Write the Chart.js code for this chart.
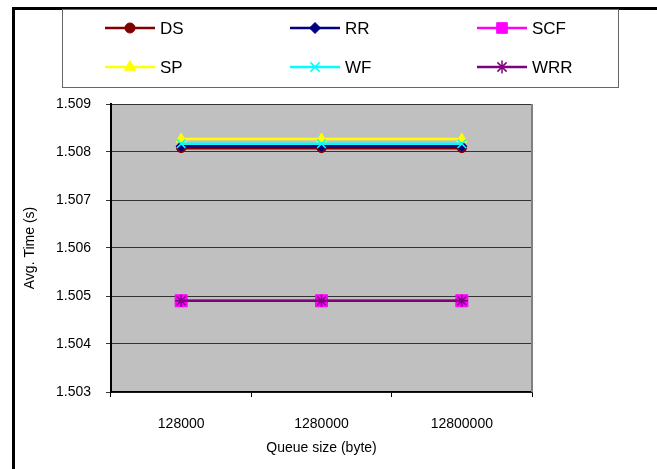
<!DOCTYPE html>
<html>
<head>
<meta charset="utf-8">
<script src="https://cdn.jsdelivr.net/npm/chart.js@4"></script>
<style>
html,body{margin:0;padding:0;background:#fff;}
#wrap{width:657px;height:469px;position:relative;}
</style>
</head>
<body>
<div id="wrap"><canvas id="c" width="657" height="469"></canvas></div>
<script>
const categories = ['128000', '1280000', '12800000'];
const seriesNames = ['DS', 'RR', 'SCF', 'SP', 'WF', 'WRR'];
const DS  = [1.50808, 1.50808, 1.50808];
const RR  = [1.50812, 1.50812, 1.50812];
const SCF = [1.50490, 1.50490, 1.50490];
const SP  = [1.50827, 1.50827, 1.50827];
const WF  = [1.50817, 1.50817, 1.50817];
const WRR = [1.50490, 1.50490, 1.50490];
const yTicks = [1.503, 1.504, 1.505, 1.506, 1.507, 1.508, 1.509];

const styles = [
  {color:'#800000', pointStyle:'circle',   radius:4.5},
  {color:'#000080', pointStyle:'rectRot',  radius:5},
  {color:'#FF00FF', pointStyle:'rect',     radius:8.5},
  {color:'#FFFF00', pointStyle:'triangle', radius:6},
  {color:'#00FFFF', pointStyle:'crossRot', radius:6},
  {color:'#800080', pointStyle:'star',     radius:6}
];
const values = [DS, RR, SCF, SP, WF, WRR];

const datasets = seriesNames.map((n, i) => ({
  label: n,
  data: values[i],
  borderColor: styles[i].color,
  backgroundColor: styles[i].color,
  pointBackgroundColor: styles[i].color,
  pointBorderColor: styles[i].color,
  pointStyle: styles[i].pointStyle,
  pointRadius: styles[i].radius,
  pointBorderWidth: (styles[i].pointStyle === 'crossRot' || styles[i].pointStyle === 'star') ? 1.5 : 1,
  borderWidth: 2.5,
  tension: 0,
  order: seriesNames.length - i
}));

const FONT = '"Liberation Sans", Arial, sans-serif';

const framePlugin = {
  id: 'frame',
  beforeDraw(chart) {
    const ctx = chart.ctx;
    const a = chart.chartArea;
    ctx.save();
    ctx.fillStyle = '#ffffff';
    ctx.fillRect(0, 0, chart.width, chart.height);
    ctx.strokeStyle = '#000';
    ctx.lineWidth = 3;
    ctx.beginPath();
    ctx.moveTo(13.5, chart.height + 5);
    ctx.lineTo(13.5, 8.5);
    ctx.lineTo(chart.width + 5, 8.5);
    ctx.stroke();
    ctx.fillStyle = '#C0C0C0';
    ctx.fillRect(a.left, a.top, a.right - a.left, a.bottom - a.top);
    ctx.restore();
  },
  afterDraw(chart) {
    const ctx = chart.ctx;
    const a = chart.chartArea;
    ctx.save();
    ctx.strokeStyle = '#808080';
    ctx.lineWidth = 2;
    ctx.beginPath();
    ctx.moveTo(a.right, a.top);
    ctx.lineTo(a.right, a.bottom);
    ctx.stroke();
    // legend box
    ctx.fillStyle = '#fff';
    ctx.strokeStyle = '#666';
    ctx.lineWidth = 1;
    ctx.fillRect(62.5, 9.5, 556, 78);
    ctx.strokeRect(62.5, 9.5, 556, 78);
    const cols = [105, 290, 477];
    const rows = [28, 67];
    ctx.font = '17px ' + FONT;
    ctx.textBaseline = 'middle';
    ctx.textAlign = 'left';
    chart.data.datasets.forEach((ds, i) => {
      const x = cols[i % 3];
      const y = rows[Math.floor(i / 3)];
      ctx.strokeStyle = ds.borderColor;
      ctx.lineWidth = 2.5;
      ctx.beginPath();
      ctx.moveTo(x, y);
      ctx.lineTo(x + 50, y);
      ctx.stroke();
      const r = ds.pointStyle === 'rect' ? 7.5 : ds.pointRadius + 0.5;
      const opts = { pointStyle: ds.pointStyle, radius: r, rotation: 0, borderWidth: ds.pointBorderWidth };
      ctx.fillStyle = ds.pointBackgroundColor;
      ctx.strokeStyle = ds.pointBorderColor;
      ctx.lineWidth = ds.pointBorderWidth;
      Chart.helpers.drawPoint(ctx, opts, x + 25, y);
      ctx.fillStyle = '#000';
      ctx.fillText(ds.label, x + 55, y + 1);
    });
    ctx.restore();
  }
};

new Chart(document.getElementById('c'), {
  type: 'line',
  data: { labels: categories, datasets },
  options: {
    responsive: false,
    animation: false,
    devicePixelRatio: 1,
    layout: { padding: { left: 22, right: 125, top: 104, bottom: 12 } },
    plugins: { legend: { display: false }, tooltip: { enabled: false } },
    scales: {
      x: {
        offset: true,
        grid: { display: true, drawOnChartArea: false, offset: true, tickLength: 5, color: '#000', lineWidth: 1 },
        border: { display: true, color: '#000', width: 1.5 },
        ticks: { color: '#000', font: { family: FONT, size: 14 }, padding: 19, maxRotation: 0 },
        title: { display: true, text: 'Queue size (byte)', color: '#000', font: { family: FONT, size: 14 }, padding: { top: 4, bottom: 0 } },
        afterFit(scale) { scale.height = 65; }
      },
      y: {
        min: 1.503,
        max: 1.509,
        afterBuildTicks(scale) { scale.ticks = yTicks.map(v => ({ value: v })); },
        grid: { color: '#333', lineWidth: 1, tickLength: 5, drawTicks: true },
        border: { display: true, color: '#000', width: 2 },
        ticks: { color: '#000', font: { family: FONT, size: 14 }, padding: 15, callback: v => Number(v).toFixed(3) },
        title: { display: true, text: 'Avg. Time (s)', color: '#000', font: { family: FONT, size: 14 }, padding: { top: 0, bottom: 0 } },
        afterFit(scale) { scale.width = 89; }
      }
    }
  },
  plugins: [framePlugin]
});
</script>
</body>
</html>
